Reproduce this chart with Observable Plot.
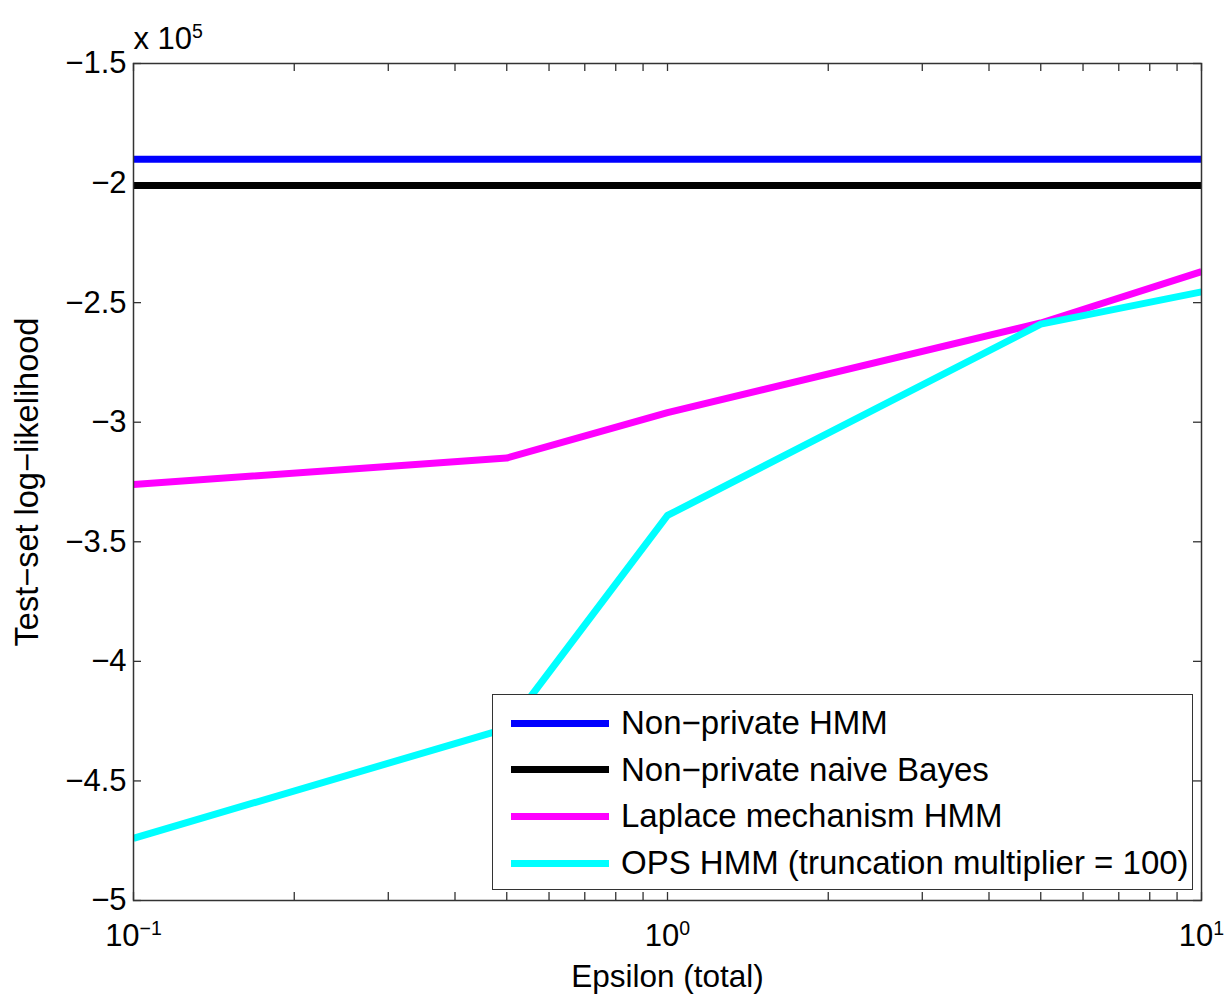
<!DOCTYPE html>
<html>
<head>
<meta charset="utf-8">
<script src="https://cdn.jsdelivr.net/npm/d3@7"></script>
<script src="https://cdn.jsdelivr.net/npm/@observablehq/plot@0.6"></script>
<style>
  body { margin: 0; background: #fff; }
  #wrap { position: relative; width: 1225px; height: 994px; font-family: "Liberation Sans", Arial, sans-serif; }
  #legend { position: absolute; left: 492px; top: 694px; width: 701px; height: 196px; box-sizing: border-box;
            border: 1.5px solid #333; background: #fff; }
  .row { position: absolute; left: 0; height: 40px; display: flex; align-items: center; }
  .sw { width: 98px; height: 7px; margin-left: 18px; margin-right: 12px; }
  .lab { font-size: 33px; color: #000; white-space: nowrap; }
</style>
</head>
<body>
<div id="wrap"></div>
<script>
// ---- data (values in units of 10^5) ----
const epsilon = [0.1, 0.5, 1, 5, 10];
const seriesNames = [
  "Non\u2212private HMM",
  "Non\u2212private naive Bayes",
  "Laplace mechanism HMM",
  "OPS HMM (truncation multiplier = 100)"
];
const seriesColors = ["#0000ff", "#000000", "#ff00ff", "#00ffff"];
const nonPrivateHMM   = [-1.90, -1.90, -1.90, -1.90, -1.90];
const nonPrivateNB    = [-2.01, -2.01, -2.01, -2.01, -2.01];
const laplaceHMM      = [-3.26, -3.15, -2.96, -2.585, -2.37];
const opsHMM          = [-4.74, -4.28, -3.39, -2.59, -2.455];
const seriesValues = [nonPrivateHMM, nonPrivateNB, laplaceHMM, opsHMM];

const xMajorTicks = [0.1, 1, 10];
const xAllTicks = [0.1, 0.2, 0.3, 0.4, 0.5, 0.6, 0.7, 0.8, 0.9, 1, 2, 3, 4, 5, 6, 7, 8, 9, 10];
const yTicks = [-5, -4.5, -4, -3.5, -3, -2.5, -2, -1.5];
const xLabel = "Epsilon (total)";
const yLabel = "Test\u2212set log\u2212likelihood";
const scaleNote = "x 10^5";

// ---- build table ----
const rows = [];
seriesNames.forEach((s, i) => epsilon.forEach((e, j) => rows.push({series: s, epsilon: e, value: seriesValues[i][j]})));

const W = 1225, H = 994, mL = 133, mR = 24, mT = 63, mB = 94;
const pw = W - mL - mR, ph = H - mT - mB, tk = 8;

const chart = Plot.plot({
  width: W, height: H,
  marginLeft: mL, marginRight: mR, marginTop: mT, marginBottom: mB,
  style: {fontFamily: "'Liberation Sans', Arial, sans-serif", fontSize: "31px", color: "#000", background: "#fff"},
  x: {type: "log", domain: [0.1, 10]},
  y: {domain: [-5, -1.5]},
  color: {domain: seriesNames, range: seriesColors},
  marks: [
    Plot.tickX(xAllTicks, {x: d => d, insetTop: ph - tk, stroke: "#333", strokeWidth: 1.3}),
    Plot.tickX(xAllTicks, {x: d => d, insetBottom: ph - tk, stroke: "#333", strokeWidth: 1.3}),
    Plot.tickY(yTicks, {y: d => d, insetRight: pw - tk, stroke: "#333", strokeWidth: 1.3}),
    Plot.tickY(yTicks, {y: d => d, insetLeft: pw - tk, stroke: "#333", strokeWidth: 1.3}),
    Plot.line(rows, {x: "epsilon", y: "value", z: "series", stroke: "series", strokeWidth: 7,
                     strokeLinecap: "butt", strokeLinejoin: "round", clip: true}),
    Plot.frame({stroke: "#333", strokeWidth: 1.5}),
    Plot.axisX(xMajorTicks, {anchor: "bottom", tickSize: 0, tickPadding: 23, label: null,
                             tickFormat: d => "10^" + Math.round(Math.log10(d)), fontSize: 31}),
    Plot.axisY(yTicks, {anchor: "left", tickSize: 0, tickPadding: 7, label: null, fontSize: 31,
                        tickFormat: d => String(d).replace("-", "\u2212")}),
    Plot.text([xLabel], {frameAnchor: "bottom", lineAnchor: "bottom", dy: 86, fontSize: 31.5}),
    Plot.text([yLabel], {frameAnchor: "left", textAnchor: "middle", lineAnchor: "bottom", rotate: -90, dx: -96, fontSize: 32.5}),
    Plot.text([scaleNote], {frameAnchor: "top-left", textAnchor: "start", lineAnchor: "bottom", dy: -15, fontSize: 31})
  ]
});

// superscripts
d3.select(chart).selectAll("text").each(function () {
  const t = this.textContent;
  if (!t.includes("^")) return;
  const [b, e] = t.split("^");
  const sel = d3.select(this);
  sel.text(null);
  sel.append("tspan").text(b);
  sel.append("tspan").attr("dy", "-0.55em").attr("font-size", "0.63em").text(e.replace("-", "\u2212"));
});

const wrap = document.getElementById("wrap");
wrap.appendChild(chart);

// legend
const leg = document.createElement("div");
leg.id = "legend";
seriesNames.forEach((s, i) => {
  const r = document.createElement("div");
  r.className = "row";
  r.style.top = (8 + i * 46.7) + "px";
  r.innerHTML = `<div class="sw" style="background:${seriesColors[i]}"></div><div class="lab">${s}</div>`;
  leg.appendChild(r);
});
wrap.appendChild(leg);
</script>
</body>
</html>
